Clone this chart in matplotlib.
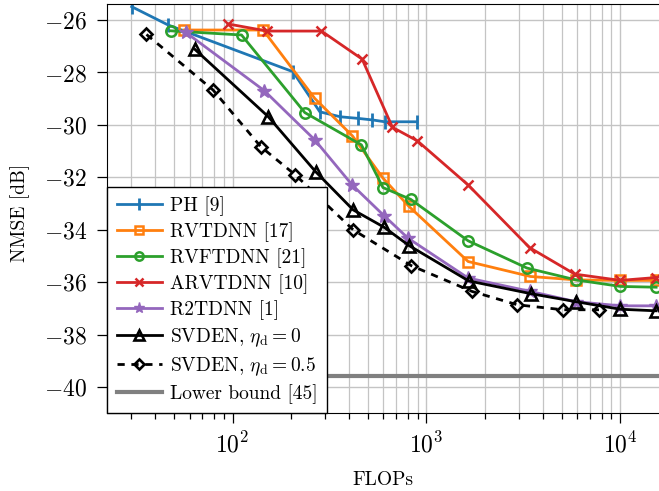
import matplotlib
matplotlib.use("Agg")
import matplotlib.pyplot as plt
from matplotlib.ticker import LogLocator, NullFormatter, MultipleLocator

plt.rcParams["font.family"] = "serif"
plt.rcParams["font.serif"] = ["cmr10", "DejaVu Serif"]
plt.rcParams["mathtext.fontset"] = "cm"
plt.rcParams["axes.formatter.use_mathtext"] = True
plt.rcParams["font.size"] = 14

# data (FLOPs, NMSE in dB)
ph_x = [30.2, 46.6, 205, 282, 360, 443, 527, 610, 895]
ph_y = [-25.49, -26.19, -27.97, -29.5, -29.69, -29.75, -29.81, -29.88, -29.88]

rvtdnn_x = [56.1, 143.8, 265.6, 415.6, 597, 813, 1641, 3436, 5888, 10000, 15300]
rvtdnn_y = [-26.38, -26.38, -28.99, -30.42, -32.03, -33.11, -35.21, -35.78, -35.91, -35.93, -35.93]

rvftdnn_x = [47.9, 111.3, 236, 462, 597, 830, 1641, 3303, 5900, 10000, 15300]
rvftdnn_y = [-26.41, -26.57, -29.53, -30.76, -32.39, -32.84, -34.42, -35.46, -35.91, -36.16, -36.19]

arvtdnn_x = [94.9, 151, 287.5, 466, 668, 899, 1641, 3404, 5820, 10000, 15300]
arvtdnn_y = [-26.15, -26.42, -26.42, -27.49, -30.09, -30.61, -32.29, -34.68, -35.69, -35.93, -35.82]

r2tdnn_x = [57.4, 145.6, 265.6, 414, 604, 804, 1641, 3436, 5888, 10000, 15300]
r2tdnn_y = [-26.47, -28.69, -30.57, -32.29, -33.46, -34.32, -35.84, -36.35, -36.74, -36.90, -36.90]

svden0_x = [64, 152.6, 268, 419, 604, 813, 1652, 3476, 5888, 10000, 15300]
svden0_y = [-27.12, -29.68, -31.78, -33.24, -33.90, -34.60, -35.95, -36.44, -36.74, -37.03, -37.09]

svden05_x = [36, 79.4, 139.9, 211, 419, 837, 1717, 2944, 5057, 7760]
svden05_y = [-26.55, -28.67, -30.83, -31.91, -34.0, -35.37, -36.35, -36.86, -37.05, -37.05]

lower_bound = -39.56

fig = plt.figure(figsize=(6.59, 4.91), dpi=100)
ax = fig.add_axes([0.1628, 0.1582, 0.8372, 0.833])

lw = 2.0
ax.plot(ph_x, ph_y, color="#1f77b4", lw=lw, marker="|", ms=10, mew=2, label="PH [9]")
ax.plot(rvtdnn_x, rvtdnn_y, color="#ff7f0e", lw=lw, marker="s", ms=7, mfc="none", mew=1.8, label="RVTDNN [17]")
ax.plot(rvftdnn_x, rvftdnn_y, color="#2ca02c", lw=lw, marker="o", ms=7.5, mfc="none", mew=1.8, label="RVFTDNN [21]")
ax.plot(arvtdnn_x, arvtdnn_y, color="#d62728", lw=lw, marker="x", ms=7, mew=1.8, label="ARVTDNN [10]")
ax.plot(r2tdnn_x, r2tdnn_y, color="#9467bd", lw=lw, marker="*", ms=10, mew=1.0, label="R2TDNN [1]")
ax.plot(svden0_x, svden0_y, color="black", lw=lw, marker="^", ms=9, mfc="none", mew=1.9,
        label=r"SVDEN, $\eta_\mathrm{d}=0$")
ax.plot(svden05_x, svden05_y, color="black", lw=lw, ls=(0, (2.6, 2.4)), marker="D", ms=6.5, mfc="none", mew=1.9,
        label=r"SVDEN, $\eta_\mathrm{d}=0.5$")
ax.axhline(lower_bound, color="#808080", lw=3, label="Lower bound [45]")

ax.set_xscale("log")
ax.set_xlim(22.6, 15830)
ax.set_ylim(-41, -25.4)
ax.yaxis.set_major_locator(MultipleLocator(2))
ax.xaxis.set_major_locator(LogLocator(base=10))
ax.xaxis.set_minor_locator(LogLocator(base=10, subs=range(2, 10)))
ax.xaxis.set_minor_formatter(NullFormatter())

ax.grid(True, which="major", color="#c4c4c4", lw=1.0)
ax.grid(True, which="minor", axis="x", color="#c4c4c4", lw=0.9)
ax.set_axisbelow(True)
ax.spines["right"].set_visible(False)
ax.tick_params(axis="both", which="major", direction="out", length=7.5, width=0.9, labelsize=17)
ax.tick_params(axis="x", which="major", pad=6)
ax.tick_params(axis="y", which="major", pad=7)
ax.tick_params(axis="x", which="minor", direction="out", length=4.5, width=0.9)
ax.tick_params(axis="y", which="minor", left=False)

ax.set_xlabel("FLOPs")
ax.set_ylabel("NMSE [dB]")
ax.xaxis.set_label_coords(0.5, -0.142)
ax.yaxis.set_label_coords(-0.140, 0.49)

leg = ax.legend(loc="lower left", bbox_to_anchor=(0, 0), borderaxespad=0, fancybox=False,
                edgecolor="black", framealpha=1, fontsize=14, handlelength=2.3,
                handletextpad=0.4, labelspacing=0.32, borderpad=0.5, markerscale=0.8)
leg.get_frame().set_linewidth(1.0)

fig.savefig("out.png", dpi=100)
